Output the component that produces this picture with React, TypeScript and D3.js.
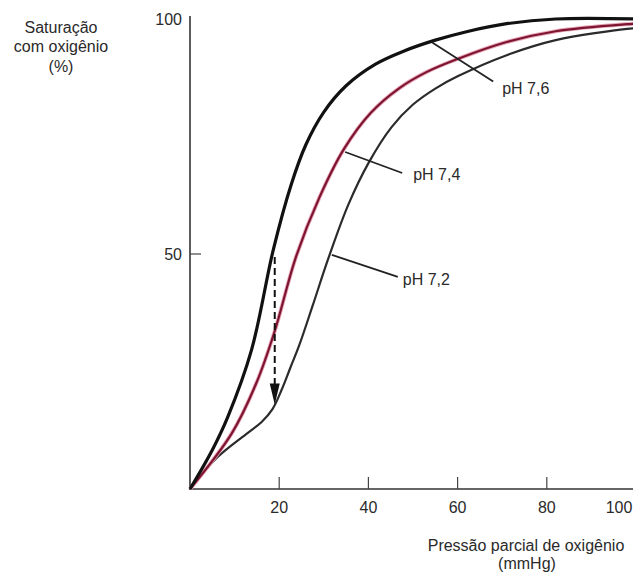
import React from "react";
import * as d3 from "d3";

// ---- data ----
const xTicks = [20, 40, 60, 80, 100];
const yTicks = [50, 100];

const phLabels = ["pH 7,6", "pH 7,4", "pH 7,2"];

const pO2_76 = [0, 5, 8.5, 13.8, 18.7, 22.7, 26, 30, 35, 41.6, 48, 55, 62, 71, 82, 100];
const sat_76 = [0, 8.3, 15.4, 29.6, 51, 64.8, 73.3, 80.2, 85.8, 90.4, 93.2, 95.5, 97.3, 99, 100, 100];

const pO2_74 = [0, 9.4, 14.9, 18.9, 23.8, 29, 34.5, 40.5, 46.8, 53, 60, 71, 82, 98, 100];
const sat_74 = [0, 11.9, 22.6, 33.3, 49.5, 62, 72.3, 80, 85.2, 88.7, 91.5, 95.1, 97.4, 98.9, 99];

const pO2_72 = [0, 6.2, 12.9, 16, 18.5, 20.5, 22.5, 24.5, 27.5, 31, 35.5, 40.1, 45.2, 50, 55, 60, 71, 82, 98, 100];
const sat_72 = [0, 6.8, 11.9, 14.2, 17, 21, 25.8, 30.6, 39, 49, 60.5, 69.5, 77, 81.8, 85.2, 87.8, 92.3, 95.5, 97.9, 98];

// where each label's leader line touches its curve (pO2, saturation)
const anchorX = [54.3, 34.8, 31.8];
const anchorY = [95, 71.7, 49.8];

// dashed arrow: pO2 and saturation drop
const arrowPO2 = 19;
const arrowFrom = 50;
const arrowTo = 18;

const W = 633;
const H = 574;

export default function App() {
  const x = d3.scaleLinear().domain([0, 100]).range([190, 636]);
  const y = d3.scaleLinear().domain([0, 100]).range([489, 19]);

  const line = d3
    .line<[number, number]>()
    .x((d) => x(d[0]))
    .y((d) => y(d[1]))
    .curve(d3.curveCatmullRom.alpha(0.5));

  const mk = (xs: number[], ys: number[]) => xs.map((v, i) => [v, ys[i]] as [number, number]);

  const c76 = line(mk(pO2_76, sat_76)) || "";
  const c74 = line(mk(pO2_74, sat_74)) || "";
  const c72 = line(mk(pO2_72, sat_72)) || "";

  const font = "'Liberation Sans', Arial, Helvetica, sans-serif";
  const txt = "#2a2a2a";

  // leader offsets (px) and text offsets
  const leader = [
    { dx: 61, dy: 39, tx: 9, ty: 12 },
    { dx: 57, dy: 21, tx: 11, ty: 7 },
    { dx: 66, dy: 22, tx: 5, ty: 8 },
  ];

  const ax = x(arrowPO2);
  const ay0 = y(arrowFrom);
  const ay1 = y(arrowTo);

  return (
    <svg
      width={W}
      height={H}
      style={{ position: "absolute", left: 0, top: 0, background: "#fff" }}
      fontFamily={font}
    >
      <rect x={0} y={0} width={W} height={H} fill="#fff" />

      {/* axes */}
      <line x1={x(0)} y1={16} x2={x(0)} y2={y(0) + 1} stroke="#333" strokeWidth={1.6} />
      <line x1={x(0)} y1={y(0)} x2={W} y2={y(0)} stroke="#333" strokeWidth={1.6} />

      {xTicks.map((t) => (
        <g key={"xt" + t}>
          <line x1={x(t)} y1={y(0)} x2={x(t)} y2={y(0) - 12} stroke="#444" strokeWidth={1.2} />
          <text x={Math.min(x(t), 619)} y={513} fontSize={16} fill={txt} textAnchor="middle">
            {t}
          </text>
        </g>
      ))}

      {yTicks.map((t) => (
        <g key={"yt" + t}>
          {t < 100 && (
            <line x1={x(0)} y1={y(t)} x2={x(0) + 11} y2={y(t)} stroke="#444" strokeWidth={1.2} />
          )}
          <text x={182} y={y(t) + 6} fontSize={16} fill={txt} textAnchor="end">
            {t}
          </text>
        </g>
      ))}

      {/* y axis title */}
      <text fontSize={16} fill={txt} textAnchor="middle">
        <tspan x={61} y={33}>Saturação</tspan>
        <tspan x={61} y={52}>com oxigênio</tspan>
        <tspan x={61} y={72}>(%)</tspan>
      </text>

      {/* x axis title */}
      <text fontSize={16} fill={txt} textAnchor="middle">
        <tspan x={526} y={551}>Pressão parcial de oxigênio</tspan>
        <tspan x={527} y={569}>(mmHg)</tspan>
      </text>

      {/* curves */}
      <path d={c72} fill="none" stroke="#2b2b2b" strokeWidth={2.2} />
      <path d={c74} fill="none" stroke="#e9a9bb" strokeWidth={4} />
      <path d={c74} fill="none" stroke="#7d1530" strokeWidth={2.2} />
      <path d={c76} fill="none" stroke="#111" strokeWidth={3.2} />

      {/* leader lines and labels */}
      {phLabels.map((lab, i) => {
        const px = x(anchorX[i]);
        const py = y(anchorY[i]);
        const l = leader[i];
        return (
          <g key={lab}>
            <line x1={px} y1={py} x2={px + l.dx} y2={py + l.dy} stroke="#222" strokeWidth={1.8} />
            <text x={px + l.dx + l.tx} y={py + l.dy + l.ty} fontSize={16} fill={txt}>
              {lab}
            </text>
          </g>
        );
      })}

      {/* dashed arrow */}
      <line
        x1={ax}
        y1={ay0 + 3}
        x2={ax}
        y2={ay1 - 20}
        stroke="#111"
        strokeWidth={2}
        strokeDasharray="7 4"
      />
      <path
        d={`M${ax - 5},${ay1 - 21} L${ax + 5},${ay1 - 21} L${ax},${ay1} Z`}
        fill="#111"
      />
    </svg>
  );
}
